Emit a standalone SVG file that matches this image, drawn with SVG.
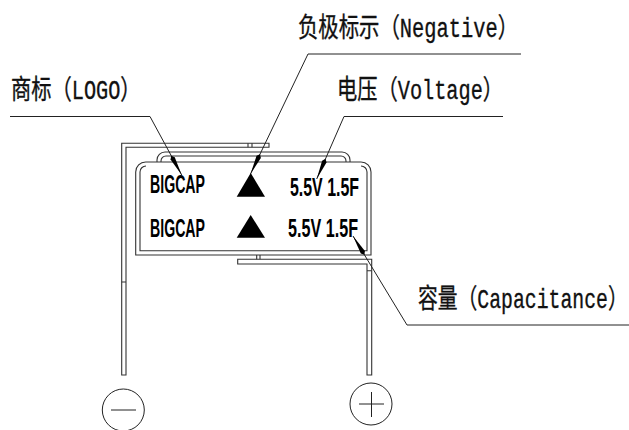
<svg xmlns="http://www.w3.org/2000/svg" width="629" height="430" viewBox="0 0 629 430">
<style>
.b{fill:none;stroke:#333;stroke-width:1.1}
.t{fill:#000;stroke:none}
.l{fill:none;stroke:#222;stroke-width:1}
.lab{font-family:"Liberation Mono","Noto Sans CJK SC",monospace;font-size:27px;fill:#111;stroke:#111;stroke-width:.35}
.mark{font-family:"Liberation Sans",Arial,sans-serif;font-size:25px;font-weight:bold;fill:#000}
</style>
<defs>
<marker id="arr" markerUnits="userSpaceOnUse" markerWidth="26" markerHeight="8" refX="24" refY="4" orient="auto">
<path d="M2 4L5 1.6L24 4L5 6.4Z" fill="#000"/>
</marker>
</defs>
<rect width="629" height="430" fill="#fff"/>
<g id="lead-negative">
<path class="b" d="M121.7 375V143.3H269V147.3H126V375Z"/>
<path class="b" d="M248 143.3V147.3M252 143.3V147.3M121.7 282H126"/>
</g>
<g id="lead-positive">
<path class="b" d="M237.7 259.3H371.7V375H367V264H237.7Z"/>
<path class="b" d="M256.7 255V259.3M260 255V259.3M367 270.7H371.7"/>
</g>
<g id="back-tab">
<path class="b" d="M157 162V160A8 8 0 0 1 165 152H342A8 8 0 0 1 350 160V162"/>
<path class="b" d="M161 162V161A5 5 0 0 1 166 156H341A5 5 0 0 1 346 161V162"/>
</g>
<g id="body">
<path class="b" d="M135.7 255V172A10 10 0 0 1 145.7 162H361A10 10 0 0 1 371 172V255Z"/>
<path class="b" d="M146 166A6 6 0 0 0 140 172V250.7H367V172A6 6 0 0 0 361 166"/>
</g>
<g id="row-1">
<text class="mark" x="150" y="193" textLength="55" lengthAdjust="spacingAndGlyphs">BIGCAP</text>
<polygon class="t" points="250.7,173 236.7,196.7 265,196.7"/>
<text class="mark" x="290" y="196" textLength="69" lengthAdjust="spacingAndGlyphs">5.5V 1.5F</text>
</g>
<g id="row-2">
<text class="mark" x="150" y="237" textLength="55" lengthAdjust="spacingAndGlyphs">BIGCAP</text>
<polygon class="t" points="250.7,215 236.7,237.7 265,237.7"/>
<text class="mark" x="288" y="237" textLength="70" lengthAdjust="spacingAndGlyphs">5.5V 1.5F</text>
</g>
<g id="terminal-negative">
<circle class="l" cx="123.3" cy="410" r="21"/>
<path class="l" d="M111 410H136"/>
</g>
<g id="terminal-positive">
<circle class="l" cx="371" cy="404" r="21"/>
<path class="l" d="M359 404H384M371.5 392V417"/>
</g>
<g id="label-logo"><text class="lab" transform="translate(11 99) scale(.75 1)">商标（LOGO）</text></g>
<g id="label-negative"><text class="lab" transform="translate(298 37) scale(.755 1)">负极标示（Negative）</text></g>
<g id="label-voltage"><text class="lab" transform="translate(337 99) scale(.75 1)">电压（Voltage）</text></g>
<g id="label-capacitance"><text class="lab" transform="translate(418 308) scale(.733 1)">容量（Capacitance）</text></g>
<g id="connectors">
<polyline class="l" marker-end="url(#arr)" points="10,116.5 150,116.5 181.7,175"/>
<polyline class="l" marker-end="url(#arr)" points="521,54 308,54 250.5,174"/>
<polyline class="l" marker-end="url(#arr)" points="503,116.5 344,116.5 316.7,179"/>
<polyline class="l" marker-end="url(#arr)" points="629,325 407,325 353,236"/>
</g>
</svg>
